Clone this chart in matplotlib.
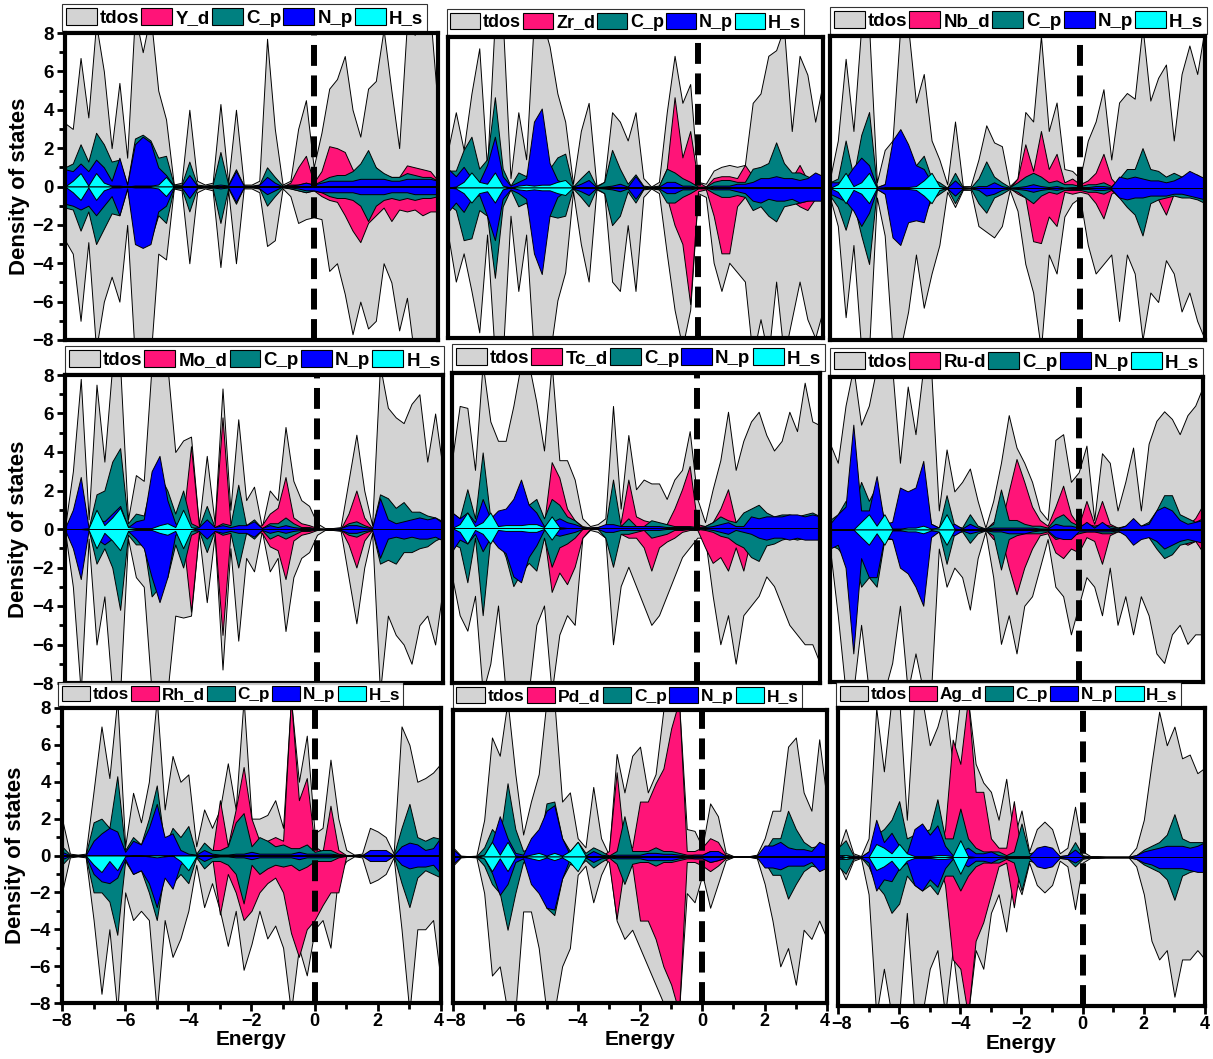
import numpy as np
import matplotlib
matplotlib.use("Agg")
import matplotlib.pyplot as plt
from matplotlib.patches import Patch
from matplotlib.ticker import MultipleLocator
from matplotlib.transforms import ScaledTranslation

plt.rcParams['font.family'] = ['Liberation Sans', 'DejaVu Sans']
plt.rcParams['font.weight'] = 'bold'

energy = np.linspace(-8, 4, 49)

# ---------------- Panel 1 : Y ----------------
tdos_up_Y = [3.3, 3.0, 6.7, 3.6, 8.5, 6.0, 2.0,
             5.4, 1.5, 9, 7, 9, 5, 3.5,
             0.1, 0.2, 4.0, 0.3, 0.1, 0.2, 4.3,
             0.2, 4.0, 0.1, 0.1, 0.3, 7.7, 3.0,
             0.1, 0.3, 3.0, 4.5, 1.0, 2.8, 5.1,
             5.6, 6.8, 4.0, 2.6, 5.1, 5.5, 8.2,
             5.0, 2.0, 8.5, 7.9, 9, 9, 4.0]
tdos_dn_Y = [-2.8, -3.5, -7.0, -2.9, -8.5, -6.0, -4.7,
             -6.0, -2.0, -9, -9, -9, -3.5, -3.8,
             -0.1, -0.2, -4.0, -0.3, -0.1, -0.2, -4.2,
             -0.2, -4.0, -0.1, -0.1, -0.3, -3.1, -2.8,
             -0.1, -0.5, -1.9, -1.7, -1.6, -1.7, -4.4,
             -4.0, -5.6, -7.7, -6.0, -7.4, -7.0, -4.0,
             -5.0, -7.5, -5.8, -9, -9, -9, -9]
d_up_Y = [0] * 28 + [0, 0.2, 1.0, 1.6, 0.2, 0.8, 2.1,
                     2.0, 1.8, 0.9, 0.6, 1.4, 1.0, 0.6,
                     0.5, 0.5, 1.1, 1.0, 0.9, 0.8, 0.3]
d_dn_Y = [0] * 28 + [0, -0.1, -0.2, -0.3, -0.2, -0.5, -0.7,
                     -0.8, -1.5, -2.3, -2.9, -1.9, -1.5, -1.1,
                     -1.8, -1.2, -1.3, -1.2, -1.5, -1.3, -1.3]
cp_up_Y = [1.0, 1.2, 2.2, 1.3, 2.8, 2.2, 1.3,
           1.4, 0.1, 2.5, 2.7, 2.4, 1.5, 1.6,
           0.1, 0.1, 1.3, 0.1, 0.05, 0.1, 1.8,
           0.1, 0.9, 0.05, 0.05, 0.1, 1.0, 0.5,
           0.05, 0.1, 0.1, 0.2, 0.1, 0.3, 0.5,
           0.6, 0.6, 0.8, 1.2, 1.9, 1.0, 0.7,
           0.5, 0.5, 0.7, 0.6, 0.5, 0.5, 0.3]
cp_dn_Y = [-1.1, -1.2, -2.3, -1.3, -3.0, -2.2, -1.4,
           -1.5, -0.1, -2.4, -2.6, -2.8, -1.5, -1.9,
           -0.1, -0.1, -1.3, -0.1, -0.05, -0.1, -1.9,
           -0.1, -0.9, -0.05, -0.05, -0.1, -1.0, -0.5,
           -0.05, -0.1, -0.2, -0.3, -0.2, -0.3, -0.5,
           -0.6, -0.6, -0.7, -1.0, -1.8, -1.0, -0.7,
           -0.6, -0.7, -0.6, -0.7, -0.6, -0.6, -0.5]
np_up_Y = [0.9, 0.8, 1.2, 0.8, 1.4, 1.0, 0.3,
           1.5, 0.1, 2.2, 2.6, 2.3, 1.0, 0.6,
           0.05, 0.05, 0.6, 0.05, 0, 0.05, 0.1,
           0.05, 0.8, 0.05, 0, 0.1, 0.5, 0.2,
           0, 0.05, 0.1, 0.2, 0.1, 0.2, 0.3,
           0.3, 0.3, 0.3, 0.4, 0.4, 0.4, 0.4,
           0.3, 0.3, 0.4, 0.4, 0.4, 0.4, 0.3]
np_dn_Y = [-0.9, -1.0, -1.2, -1.0, -1.5, -1.0, -0.5,
           -1.5, -0.1, -3.0, -3.2, -3.0, -1.3, -1.0,
           -0.05, -0.05, -0.6, -0.05, 0, -0.05, -0.1,
           -0.05, -0.8, -0.05, 0, -0.1, -0.4, -0.2,
           0, -0.05, -0.1, -0.2, -0.2, -0.3, -0.3,
           -0.3, -0.3, -0.3, -0.4, -0.4, -0.4, -0.4,
           -0.3, -0.3, -0.3, -0.4, -0.4, -0.4, -0.4]
hs_up_Y = [0, 0.3, 0.7, 0.05, 0.7, 0.2, 0.05,
           0.05, 0, 0.05, 0.05, 0.05, 0.1, 0.5] + [0] * 35
hs_dn_Y = [0, -0.3, -0.7, -0.05, -0.7, -0.2, -0.05,
           -0.05, 0, -0.05, -0.05, -0.05, -0.1, -0.5] + [0] * 35

# ---------------- Panel 2 : Zr ----------------
tdos_up_Zr = [2.0, 4.0, 2.0, 5.0, 7.4, 1.0, 9,
              9, 0.5, 4.0, 1.5, 9, 9, 7.5,
              5.0, 3.5, 0.2, 3.0, 4.5, 0.1, 0.3,
              4.0, 3.5, 2.5, 4.0, 0.5, 0.05, 0.3,
              4.0, 7.0, 4.5, 5.5, 0.3, 0.2, 0.9,
              1.1, 1.2, 1.1, 1.2, 4.5, 5.0, 7.0,
              7.3, 8.5, 3.0, 7.0, 6.0, 3.5, 5.6]
tdos_dn_Zr = [-2.5, -5.0, -3.5, -5.5, -7.7, -2.5, -9,
              -9, -1.5, -5.5, -2.5, -9, -9, -9,
              -6.0, -4.5, -0.2, -3.0, -5.0, -0.1, -0.3,
              -5.0, -5.5, -2.0, -5.5, -0.5, -0.05, -0.3,
              -3.5, -6.5, -8.5, -6.5, -0.3, -0.5, -4.0,
              -5.5, -4.0, -4.5, -5.0, -9, -7.0, -9,
              -5.0, -9, -7.0, -5.0, -7.0, -8.0, -6.5]
d_up_Zr = [0] * 27 + [0.1, 1.0, 4.8, 1.6, 3.0, 0.3, 0.05, 0.5, 0.6, 0.6, 0.5,
                      1.2, 0.6, 0.3, 0.3, 0.3, 0.4, 0.5, 1.2, 0.4, 0.3, 0.3]
d_dn_Zr = [0] * 27 + [-0.1, -0.5, -2.0, -3.0, -6.2, -0.2, -0.1, -1.5, -3.5, -3.5,
                      -1.0, -0.5, -0.4, -0.4, -0.5, -0.5, -0.6, -0.7, -1.0, -1.2,
                      -0.6, -0.5]
cp_up_Zr = [0.9, 0.9, 2.0, 2.7, 1.0, 1.5, 4.8,
            1.0, 0.1, 0.8, 0.6, 1.5, 1.0, 1.0,
            1.6, 1.8, 0.05, 0.5, 0.9, 0.05, 0.3,
            2.0, 1.0, 0.2, 0.7, 0.1, 0.05, 0.1,
            1.0, 0.8, 0.5, 0.3, 0.05, 0.05, 0.3,
            0.4, 0.4, 0.3, 0.3, 1.0, 1.1, 1.3,
            2.4, 1.3, 0.8, 0.8, 0.6, 0.4, 0.5]
cp_dn_Zr = [-0.9, -1.2, -2.8, -2.7, -1.2, -1.5, -4.8,
            -1.0, -0.1, -1.0, -0.8, -2.0, -1.5, -1.5,
            -1.6, -1.5, -0.05, -0.5, -1.0, -0.05, -0.3,
            -2.0, -1.5, -0.2, -0.8, -0.1, -0.05, -0.1,
            -0.8, -0.8, -0.5, -0.3, -0.05, -0.05, -0.3,
            -0.5, -0.5, -0.4, -0.5, -1.2, -1.0, -1.5,
            -1.8, -1.0, -0.9, -0.8, -0.7, -0.6, -0.7]
np_up_Zr = [1.0, 0.6, 1.1, 0.5, 0.3, 1.2, 2.7,
            0.6, 0.1, 0.3, 0.5, 3.5, 4.2, 1.3,
            0.4, 0.2, 0.05, 0.2, 0.4, 0.02, 0.05,
            0.1, 0.2, 0.05, 0.6, 0.05, 0.02, 0.05,
            0.3, 0.3, 0.1, 0.1, 0.02, 0.02, 0.1,
            0.1, 0.1, 0.2, 0.2, 0.3, 0.5, 0.5,
            0.6, 0.5, 0.5, 0.4, 0.5, 0.8, 0.6]
np_dn_Zr = [-1.3, -0.8, -1.3, -0.6, -0.4, -1.5, -2.8,
            -0.6, -0.1, -0.3, -0.6, -3.5, -4.6, -1.5,
            -0.5, -0.2, -0.05, -0.2, -0.4, -0.02, -0.05,
            -0.1, -0.2, -0.05, -0.6, -0.05, -0.02, -0.05,
            -0.3, -0.3, -0.1, -0.1, -0.02, -0.02, -0.1,
            -0.1, -0.1, -0.2, -0.3, -0.7, -0.8, -0.6,
            -0.7, -0.7, -0.6, -0.8, -0.7, -0.7, -0.7]
hs_up_Zr = [0, 0.05, 0.3, 0.8, 0.3, 0.2, 0.8,
            0.1, 0, 0.1, 0.15, 0.1, 0.15, 0.15,
            0.3, 0.4] + [0] * 33
hs_dn_Zr = [0, -0.05, -0.3, -0.8, -0.3, -0.2, -0.8,
            -0.1, 0, -0.1, -0.15, -0.1, -0.15, -0.15,
            -0.3, -0.4] + [0] * 33

# ---------------- Panel 3 : Nb ----------------
tdos_up_Nb = [0.5, 2.5, 6.8, 3.0, 8.5, 8.5, 0.3,
              2.0, 2.5, 8.5, 8.5, 4.5, 6.0, 2.5,
              1.5, 0.2, 3.5, 0.1, 0.1, 1.5, 3.3,
              2.4, 2.2, 0.1, 0.5, 4.0, 3.5, 8.0,
              3.0, 4.5, 1.0, 0.9, 0.5, 2.5, 3.5,
              5.2, 1.5, 4.5, 5.0, 4.7, 8.5, 4.6,
              5.8, 6.5, 2.5, 6.0, 7.5, 6.0, 8.5]
tdos_dn_Nb = [-0.5, -2.0, -6.8, -3.0, -8.5, -8.5, -0.5,
              -2.5, -8.5, -8.5, -6.5, -3.5, -6.3, -4.5,
              -3.0, -0.2, -1.0, -0.1, -0.1, -2.0, -2.3,
              -2.6, -2.0, -0.1, -1.2, -4.0, -5.5, -8.5,
              -3.5, -4.5, -1.5, -0.8, -0.5, -3.0, -4.5,
              -4.0, -3.5, -7.0, -3.5, -4.5, -8.0, -5.5,
              -6.0, -3.8, -4.5, -6.5, -5.5, -7.0, -8.0]
d_up_Nb = [0] * 24 + [0.5, 2.3, 0.9, 3.0, 1.0, 1.8, 0.3, 0.5, 0.2, 0.4, 0.8,
                      1.8, 0.5, 0.05, 0.05, 0.05, 0.05, 0.05, 0.05, 0.05,
                      0.1, 0.1, 0.1, 0.2, 0.4]
d_dn_Nb = [0] * 24 + [-0.3, -0.5, -2.8, -2.9, -1.5, -2.0, -0.2, -0.3, -0.2, -0.3,
                      -0.8, -1.6, -0.3, -0.05, -0.05, -0.05, -0.05, -0.2, -0.6,
                      -1.4, -0.3, -0.1, -0.1, -0.5, -0.6]
cp_up_Nb = [0.3, 0.5, 2.5, 0.6, 2.8, 4.0, 0.05,
            0.2, 0.5, 1.2, 1.5, 1.2, 1.7, 0.5,
            0.3, 0.02, 0.8, 0.05, 0.02, 0.5, 1.4,
            0.6, 0.3, 0.05, 0.3, 0.6, 0.8, 0.6,
            0.3, 0.4, 0.2, 0.2, 0.1, 0.2, 0.2,
            0.3, 0.1, 0.5, 1.0, 1.0, 2.1, 1.0,
            0.9, 0.6, 0.8, 0.6, 0.7, 0.7, 0.4]
cp_dn_Nb = [-0.4, -1.0, -2.2, -0.8, -2.5, -4.0, -0.05,
            -0.3, -0.8, -1.0, -1.2, -1.4, -1.4, -0.6,
            -0.3, -0.02, -0.8, -0.05, -0.02, -0.8, -1.3,
            -0.5, -0.3, -0.05, -0.2, -0.5, -0.8, -0.4,
            -0.2, -0.3, -0.1, -0.1, -0.1, -0.2, -0.2,
            -0.3, -0.1, -0.5, -1.0, -1.4, -2.5, -0.8,
            -0.6, -0.5, -0.4, -0.5, -0.5, -0.6, -0.8]
np_up_Nb = [0.3, 0.3, 0.5, 1.1, 1.6, 1.2, 0.05,
            0.2, 2.5, 3.1, 2.3, 1.2, 1.0, 0.3,
            0.1, 0.02, 0.4, 0.02, 0.02, 0.1, 0.1,
            0.3, 0.1, 0.02, 0.05, 0.1, 0.2, 0.1,
            0.05, 0.1, 0.02, 0.05, 0.05, 0.05, 0.1,
            0.1, 0.05, 0.6, 0.5, 0.6, 0.5, 0.4,
            0.4, 0.3, 0.4, 0.6, 0.9, 0.7, 0.5]
np_dn_Nb = [-0.3, -0.5, -0.7, -1.2, -2.0, -1.3, -0.05,
            -0.3, -2.6, -3.0, -1.8, -1.7, -1.8, -0.3,
            -0.1, -0.02, -0.4, -0.02, -0.02, -0.1, -0.4,
            -0.3, -0.1, -0.02, -0.05, -0.1, -0.2, -0.1,
            -0.05, -0.1, -0.02, -0.05, -0.05, -0.05, -0.1,
            -0.1, -0.05, -0.5, -0.6, -0.5, -0.5, -0.4,
            -0.4, -0.4, -0.3, -0.3, -0.4, -0.5, -0.6]
hs_up_Nb = [0, 0.2, 0.8, 0.1, 0.3, 0.8, 0,
            0.05, 0.05, 0.05, 0.05, 0.1, 0.4, 0.8,
            0.1] + [0] * 34
hs_dn_Nb = [0, -0.2, -0.8, -0.1, -0.3, -0.8, 0,
            -0.05, -0.05, -0.05, -0.05, -0.1, -0.4, -0.8,
            -0.1] + [0] * 34

# ---------------- Panel 4 : Mo ----------------
tdos_up_Mo = [0.1, 3.0, 7.8, 0.5, 7.5, 3.5, 8.5,
              8.5, 0.5, 2.8, 2.5, 8.5, 8.5, 8.5,
              4.0, 4.6, 4.8, 0.2, 3.8, 0.3, 7.3,
              1.0, 5.7, 1.5, 2.2, 0.1, 2.0, 1.5,
              5.3, 2.5, 1.5, 1.2, 0.3, 0.05, 0.05,
              0.1, 2.5, 4.9, 2.0, 0.2, 8.5, 6.3,
              5.8, 5.5, 6.5, 7.0, 3.5, 6.0, 3.0]
tdos_dn_Mo = [-0.1, -3.0, -8.5, -0.5, -6.0, -3.5, -8.5,
              -8.5, -0.5, -2.5, -3.0, -8.5, -8.5, -8.5,
              -4.5, -4.6, -4.5, -0.2, -3.8, -0.3, -7.3,
              -1.0, -5.8, -1.5, -2.2, -0.1, -2.2, -1.5,
              -5.3, -2.5, -1.5, -1.2, -0.3, -0.05, -0.05,
              -0.1, -2.5, -4.9, -2.0, -0.2, -8.5, -4.5,
              -5.5, -6.0, -7.0, -5.0, -4.5, -6.0, -3.0]
d_up_Mo = [0] * 15 + [0.5, 4.3, 0.2, 0.3, 0.2, 5.8, 0.3, 0.1, 0.1, 0.1, 0.2,
                      0.8, 1.1, 2.7, 0.6, 0.3, 0.2, 0.05, 0, 0, 0, 0.8, 2.0,
                      0.6, 0.05] + [0.05] * 9
d_dn_Mo = [0] * 15 + [-0.5, -4.3, -0.2, -0.3, -0.2, -5.5, -0.3, -0.1, -0.1, -0.1,
                      -0.2, -0.9, -1.1, -2.6, -0.6, -0.3, -0.2, -0.05, 0, 0, 0,
                      -0.8, -2.0, -0.6, -0.05] + [-0.05] * 9
cp_up_Mo = [0.05, 0.2, 0.2, 0.05, 1.8, 2.0, 3.5,
            4.2, 0.3, 0.8, 0.7, 2.5, 2.8, 2.0,
            0.8, 2.0, 0.3, 0.1, 1.2, 0.1, 0.3,
            0.2, 2.3, 0.2, 0.5, 0.05, 0.3, 0.3,
            0.6, 0.3, 0.1, 0.1, 0.02, 0.02, 0.02,
            0.05, 0.3, 0.4, 0.2, 0.05, 1.8, 1.6,
            1.1, 1.4, 0.9, 0.9, 0.7, 0.6, 0.4]
cp_dn_Mo = [-0.05, -0.2, -0.2, -0.05, -1.8, -1.0, -2.0,
            -4.2, -0.3, -0.8, -0.8, -3.5, -3.0, -2.5,
            -0.8, -2.0, -0.3, -0.1, -1.2, -0.1, -0.3,
            -0.2, -2.0, -0.2, -0.5, -0.05, -0.5, -0.3,
            -0.5, -0.3, -0.1, -0.1, -0.02, -0.02, -0.02,
            -0.05, -0.3, -0.4, -0.2, -0.05, -1.8, -1.6,
            -1.8, -1.2, -1.2, -1.0, -0.9, -0.6, -0.4]
np_up_Mo = [0.05, 1.0, 2.7, 0.05, 0.5, 0.4, 0.8,
            1.2, 0.1, 0.4, 0.5, 3.0, 3.8, 1.5,
            0.3, 0.1, 0.05, 0.1, 0.5, 0.1, 0.2,
            0.1, 0.2, 0.2, 0.4, 0.05, 0.2, 0.1,
            0.2, 0.1, 0.05, 0.05, 0.02, 0.02, 0.02,
            0.05, 0.2, 0.2, 0.1, 0.05, 1.6, 0.5,
            0.3, 0.4, 0.5, 0.6, 0.5, 0.6, 0.3]
np_dn_Mo = [-0.05, -1.0, -2.6, -0.05, -0.5, -0.8, -0.5,
            -1.0, -0.1, -0.5, -1.0, -2.5, -3.8, -2.5,
            -0.3, -0.1, -0.05, -0.1, -0.5, -0.1, -0.2,
            -0.1, -0.2, -0.2, -0.4, -0.05, -0.2, -0.1,
            -0.2, -0.1, -0.05, -0.05, -0.02, -0.02, -0.02,
            -0.05, -0.2, -0.2, -0.1, -0.05, -1.5, -0.5,
            -0.4, -0.5, -0.4, -0.5, -0.5, -0.4, -0.6]
hs_up_Mo = [0, 0, 0, 0.05, 1.0, 0.2, 0.6,
            1.1, 0.1, 0.05, 0.05, 0.05, 0.2, 0.3,
            0.1, 1.0, 0.1] + [0] * 32
hs_dn_Mo = [0, 0, 0, -0.05, -1.0, -0.2, -0.6,
            -1.1, -0.1, -0.05, -0.05, -0.05, -0.2, -0.3,
            -0.1, -1.0, -0.1] + [0] * 32

# ---------------- Panel 5 : Tc ----------------
tdos_up_Tc = [3.5, 6.3, 6.2, 3.0, 8.5, 5.5, 4.5,
              4.5, 6.3, 8.5, 8.5, 6.5, 4.0, 8.5,
              3.5, 3.5, 2.5, 0.5, 0.1, 0.2, 0.5,
              6.3, 1.0, 4.8, 2.0, 2.5, 2.3, 2.3,
              1.5, 2.5, 3.0, 5.0, 1.5, 0.3, 2.0,
              3.5, 6.0, 3.0, 4.5, 5.5, 6.0, 4.8,
              4.0, 4.5, 6.0, 5.0, 7.5, 5.5, 5.3]
tdos_dn_Tc = [-2.5, -4.5, -5.3, -3.5, -8.5, -7.0, -4.0,
              -8.5, -8.5, -8.5, -8.5, -5.0, -4.0, -8.5,
              -5.5, -4.5, -5.0, -0.5, -0.1, -0.2, -0.5,
              -6.0, -3.0, -2.0, -3.0, -4.0, -5.0, -4.5,
              -3.5, -2.5, -1.5, -1.0, -0.5, -0.5, -3.5,
              -6.0, -4.5, -7.0, -4.5, -4.0, -3.5, -2.5,
              -3.0, -4.0, -5.0, -5.5, -6.0, -6.0, -7.0]
d_up_Tc = [0] * 12 + [0.2, 3.4, 2.6, 1.0, 0.4, 0.1, 0.02, 0.05, 0.1, 0.2, 0.3,
                      2.5, 0.6, 0.4, 0.3, 0.2, 0.2, 1.0, 2.0, 3.2, 0.2, 0.1,
                      0.3, 1.0, 2.0, 0.3, 0.6, 0.2, 0.1] + [0.05] * 8
d_dn_Tc = [0] * 12 + [-0.3, -3.3, -2.3, -2.9, -2.0, -0.5, -0.05, -0.05, -0.1,
                      -0.2, -0.3, -0.5, -0.5, -1.0, -2.2, -1.0, -0.7, -0.5,
                      -0.2, -0.1, -0.1, -1.0, -1.8, -1.5, -2.2, -1.0, -2.2,
                      -0.5, -0.2] + [-0.05] * 8
cp_up_Tc = [0.8, 0.5, 2.0, 0.5, 3.9, 0.5, 0.3,
            0.5, 1.0, 2.0, 1.2, 1.5, 0.5, 1.5,
            1.2, 0.6, 0.4, 0.05, 0.02, 0.05, 0.1,
            2.5, 0.1, 0.5, 0.1, 0.1, 0.4, 0.3,
            0.2, 0.1, 0.1, 0.1, 0.05, 0.1, 0.3,
            0.6, 0.4, 0.3, 0.8, 1.0, 1.2, 0.8,
            0.6, 0.7, 0.7, 0.6, 0.7, 0.8, 0.6]
cp_dn_Tc = [-0.8, -1.0, -2.8, -0.5, -4.5, -0.5, -0.5,
            -1.5, -3.0, -2.3, -1.8, -2.2, -0.5, -2.0,
            -1.0, -0.8, -0.5, -0.05, -0.02, -0.05, -0.5,
            -2.0, -0.3, -0.3, -0.2, -0.1, -0.5, -0.4,
            -0.3, -0.1, -0.1, -0.05, -0.05, -0.1, -0.2,
            -0.4, -0.5, -0.8, -1.0, -1.5, -1.7, -0.9,
            -0.8, -0.6, -0.5, -0.6, -0.5, -0.4, -0.6]
np_up_Tc = [0.8, 0.5, 0.8, 0.3, 1.5, 0.5, 0.9,
            1.0, 1.5, 2.5, 1.2, 0.8, 0.1, 0.3,
            0.5, 0.3, 0.2, 0.05, 0.02, 0.05, 0.2,
            0.2, 0.1, 0.1, 0.1, 0.1, 0.1, 0.1,
            0.05, 0.05, 0.05, 0.05, 0.02, 0.05, 0.1,
            0.2, 0.3, 0.1, 0.1, 0.6, 0.5, 0.6,
            0.6, 0.6, 0.7, 0.7, 0.6, 0.7, 0.6]
np_dn_Tc = [-1.2, -0.6, -0.8, -0.3, -1.2, -0.5, -1.0,
            -1.3, -2.5, -2.8, -1.5, -0.9, -0.1, -0.3,
            -0.4, -0.3, -0.2, -0.05, -0.02, -0.05, -0.2,
            -0.2, -0.1, -0.1, -0.1, -0.1, -0.1, -0.1,
            -0.05, -0.05, -0.05, -0.05, -0.02, -0.05, -0.1,
            -0.2, -0.3, -0.1, -0.2, -0.3, -0.5, -0.6,
            -0.5, -0.5, -0.6, -0.5, -0.6, -0.6, -0.6]
hs_up_Tc = [0, 0.2, 0.8, 0.1, 0.3, 0.8, 0.1,
            0.15, 0.15, 0.15, 0.2, 0.2, 0.05, 0.6,
            0.05] + [0] * 34
hs_dn_Tc = [0, -0.2, -0.8, -0.1, -0.3, -0.8, -0.1,
            -0.15, -0.15, -0.15, -0.2, -0.2, -0.05, -0.6,
            -0.05] + [0] * 34

# ---------------- Panel 6 : Ru ----------------
tdos_up_Ru = [4.5, 3.5, 6.5, 8.5, 5.5, 6.5, 8.5,
              8.5, 8.5, 3.5, 7.5, 5.0, 8.5, 8.5,
              1.0, 4.2, 2.0, 2.5, 3.2, 1.5, 0.1,
              1.5, 3.5, 6.0, 4.3, 3.5, 2.5, 1.0,
              0.5, 4.7, 5.0, 2.5, 3.0, 4.4, 0.5,
              4.0, 3.5, 1.0, 2.5, 4.3, 1.0, 4.5,
              5.7, 6.2, 5.8, 5.0, 6.0, 6.5, 7.5]
tdos_dn_Ru = [-1.0, -4.5, -8.5, -8.5, -5.0, -8.5, -8.5,
              -8.5, -7.0, -4.0, -8.5, -6.5, -8.5, -8.5,
              -1.0, -3.0, -2.0, -2.5, -4.2, -1.5, -0.1,
              -2.5, -6.0, -4.5, -6.5, -4.0, -3.5, -2.0,
              -0.5, -3.0, -3.5, -5.5, -4.0, -2.5, -3.0,
              -4.5, -2.0, -5.0, -3.5, -5.5, -3.5, -4.5,
              -6.5, -7.0, -5.5, -5.0, -6.0, -5.5, -5.5]
d_up_Ru = [0] * 21 + [0.4, 0.2, 2.0, 3.7, 2.5, 1.2, 0.5, 0.2, 1.2, 2.3, 0.8, 0.2,
                      1.5, 0.3, 1.5, 0.3] + [0.1] * 9 + [0.2, 0.6, 1.3]
d_dn_Ru = [0] * 21 + [-0.5, -0.3, -2.0, -3.4, -2.0, -1.0, -0.3, -0.2, -1.2, -1.5,
                      -1.0, -1.2, -0.4, -0.6, -1.8, -0.3, -0.1, -0.1, -0.1, -0.1,
                      -0.1, -0.1, -0.1, -0.3, -0.6, -0.8, -0.6, -1.2]
cp_up_Ru = [0.5, 0.8, 1.5, 1.0, 2.5, 1.5, 2.3,
            0.4, 0.3, 1.0, 1.5, 2.0, 2.5, 0.3,
            0.1, 1.8, 0.2, 0.1, 0.8, 0.2, 0.05,
            0.3, 2.1, 0.5, 0.5, 0.3, 0.2, 0.2,
            0.1, 0.6, 0.8, 0.4, 0.2, 0.3, 0.2,
            0.3, 0.2, 0.1, 0.2, 0.4, 0.2, 0.4,
            1.0, 1.8, 1.8, 0.8, 0.6, 0.4, 0.6]
cp_dn_Ru = [-0.8, -1.0, -1.5, -1.2, -3.0, -2.5, -3.0,
            -0.5, -0.5, -1.5, -2.0, -1.5, -2.3, -0.3,
            -0.1, -1.8, -0.2, -0.1, -0.7, -0.2, -0.05,
            -0.3, -2.1, -0.5, -0.3, -0.2, -0.2, -0.2,
            -0.1, -0.5, -0.4, -0.3, -0.2, -0.1, -0.1,
            -0.2, -0.2, -0.1, -0.2, -0.4, -0.2, -0.4,
            -1.0, -1.5, -1.3, -0.8, -0.7, -0.6, -0.4]
np_up_Ru = [0.3, 0.8, 1.2, 5.5, 1.0, 1.0, 2.8,
            0.3, 0.4, 2.2, 2.0, 2.2, 3.6, 0.3,
            0.1, 0.1, 0.3, 0.05, 0.3, 0.1, 0.05,
            0.1, 0.1, 0.1, 0.1, 0.1, 0.1, 0.05,
            0.05, 0.3, 0.2, 0.2, 0.1, 0.4, 0.1,
            0.4, 0.1, 0.05, 0.2, 0.6, 0.2, 0.3,
            1.0, 1.2, 1.0, 0.5, 0.3, 0.4, 0.5]
np_dn_Ru = [-1.0, -0.8, -2.0, -6.5, -1.5, -2.5, -2.5,
            -0.4, -0.5, -2.0, -2.3, -3.0, -4.0, -0.4,
            -0.1, -0.3, -0.3, -0.05, -0.2, -0.1, -0.05,
            -0.1, -0.1, -0.2, -0.2, -0.2, -0.1, -0.05,
            -0.05, -0.4, -0.5, -0.5, -0.1, -0.1, -0.1,
            -0.1, -0.1, -0.05, -0.3, -0.8, -0.5, -0.4,
            -0.6, -1.0, -0.8, -0.6, -0.5, -0.6, -0.7]
hs_up_Ru = [0, 0, 0, 0, 0.4, 0.8, 0.2,
            0.8, 0.05, 0.05, 0.1, 0.1, 0.2, 0.05,
            0.1, 0.8, 0.05] + [0] * 32
hs_dn_Ru = [0, 0, 0, 0, -0.4, -0.8, -0.2,
            -0.8, -0.05, -0.05, -0.1, -0.1, -0.2, -0.05,
            -0.1, -0.8, -0.05] + [0] * 32

# ---------------- Panel 7 : Rh ----------------
tdos_up_Rh = [2.0, 0.1, 0.05, 0.1, 3.5, 7.0, 4.2,
              8.5, 0.5, 3.4, 1.8, 4.0, 8.5, 2.5,
              5.4, 4.0, 4.4, 0.5, 2.5, 1.5, 2.5,
              5.0, 2.5, 8.5, 2.0, 2.0, 2.2, 3.0,
              1.5, 8.5, 4.0, 6.5, 1.2, 1.5, 5.2,
              2.0, 0.3, 0.05, 0.1, 1.5, 1.3, 1.0,
              0.1, 7.0, 6.0, 4.0, 4.2, 4.5, 5.0]
tdos_dn_Rh = [-2.0, -0.1, -0.05, -0.1, -3.5, -7.5, -4.0,
              -8.5, -2.0, -3.5, -3.0, -3.5, -8.5, -3.5,
              -5.5, -4.5, -3.0, -0.5, -2.8, -1.5, -3.0,
              -4.9, -3.0, -6.2, -4.8, -3.0, -4.5, -3.8,
              -5.0, -8.5, -5.0, -6.5, -4.0, -3.5, -5.0,
              -1.0, -0.3, -0.05, -0.1, -1.5, -1.3, -1.0,
              -0.1, -4.0, -8.5, -4.0, -4.0, -3.5, -6.9]
d_up_Rh = [0] * 19 + [0.05, 3.0, 0.5, 2.5, 4.8, 2.0, 0.8, 0.8, 1.0, 0.8, 8.5,
                      3.0, 4.2, 0.5, 0.2, 2.7, 0.3] + [0.02] * 13
d_dn_Rh = [0] * 19 + [-0.05, -3.2, -1.0, -2.0, -3.5, -3.0, -2.0, -1.5, -1.2, -2.0,
                      -4.2, -5.5, -4.0, -3.5, -2.7, -2.0, -2.0] + [-0.02] * 13
cp_up_Rh = [0.5, 0.05, 0.02, 0.05, 1.8, 2.0, 1.5,
            4.3, 0.3, 1.0, 0.6, 2.0, 3.8, 0.5,
            1.5, 1.0, 1.6, 0.1, 0.7, 0.3, 0.3,
            0.5, 1.8, 2.3, 0.5, 1.0, 0.8, 0.5,
            0.6, 0.4, 0.4, 0.6, 0.2, 0.3, 0.3,
            0.1, 0.02, 0.02, 0.02, 0.2, 0.2, 0.2,
            0.02, 1.5, 2.8, 1.0, 0.8, 1.0, 0.9]
cp_dn_Rh = [-0.5, -0.05, -0.02, -0.05, -2.0, -2.0, -2.5,
            -4.3, -0.3, -1.0, -0.8, -2.0, -3.5, -0.8,
            -1.5, -1.0, -1.5, -0.1, -0.7, -0.3, -0.3,
            -0.5, -1.0, -2.6, -0.5, -1.0, -0.7, -0.5,
            -0.6, -0.5, -0.8, -0.6, -0.3, -0.3, -0.3,
            -0.1, -0.02, -0.02, -0.02, -0.2, -0.2, -0.2,
            -0.02, -1.5, -2.8, -1.2, -0.8, -1.0, -1.2]
np_up_Rh = [0.2, 0.02, 0.02, 0.02, 0.8, 1.2, 1.5,
            1.3, 0.2, 0.8, 0.6, 1.5, 2.8, 1.0,
            1.2, 0.3, 0.1, 0.05, 0.3, 0.1, 0.05,
            0.05, 0.1, 0.1, 0.2, 0.1, 0.1, 0.1,
            0.1, 0.1, 0.2, 0.1, 0.1, 0.1, 0.1,
            0.05, 0.02, 0.02, 0.02, 0.3, 0.3, 0.3,
            0.02, 0.5, 0.7, 0.6, 0.3, 0.4, 1.0]
np_dn_Rh = [-0.2, -0.02, -0.02, -0.02, -1.0, -1.4, -1.5,
            -1.2, -0.2, -1.0, -0.8, -1.5, -2.8, -1.2,
            -1.8, -0.5, -0.1, -0.05, -0.3, -0.1, -0.05,
            -0.05, -0.1, -0.1, -0.2, -0.1, -0.1, -0.1,
            -0.1, -0.1, -0.2, -0.1, -0.1, -0.1, -0.1,
            -0.05, -0.02, -0.02, -0.02, -0.3, -0.3, -0.3,
            -0.02, -0.5, -0.7, -0.6, -0.6, -0.5, -1.0]
hs_up_Rh = [0] * 49
hs_dn_Rh = [0, 0, 0, 0, -0.5, -0.9, -0.3,
            -0.8, -0.05, 0, 0, -0.05, -0.1, -0.05,
            0, -0.3, -0.8, -0.05] + [0] * 31

# ---------------- Panel 8 : Pd ----------------
tdos_up_Pd = [0.5, 0.05, 0.02, 0.05, 2.0, 6.5, 5.5,
              8.5, 4.5, 1.2, 3.0, 4.5, 8.5, 8.5,
              3.0, 3.5, 1.0, 0.5, 3.8, 1.0, 0.1,
              5.6, 3.5, 5.5, 6.0, 3.5, 4.5, 8.0,
              8.5, 8.5, 1.5, 1.4, 0.5, 2.9, 2.2,
              0.2, 0.02, 0.02, 0.02, 0.1, 1.0, 2.5,
              2.5, 6.0, 6.5, 3.5, 2.5, 6.4, 3.0]
tdos_dn_Pd = [-0.5, -0.05, -0.02, -0.05, -2.0, -6.5, -6.0,
              -8.5, -8.5, -3.0, -3.0, -5.0, -8.5, -8.5,
              -6.0, -5.0, -1.0, -0.5, -2.5, -1.0, -0.1,
              -3.5, -4.5, -4.0, -5.0, -6.0, -7.0, -8.0,
              -8.5, -8.5, -2.0, -2.5, -1.0, -2.8, -1.5,
              -0.2, -0.02, -0.02, -0.02, -0.1, -1.5, -3.5,
              -6.0, -5.0, -7.0, -4.0, -4.5, -3.5, -4.5]
d_up_Pd = [0] * 20 + [0.3, 4.6, 0.5, 0.5, 3.0, 3.0, 4.0, 4.8, 7.0, 8.5, 0.3, 0.3,
                      0.5, 1.0, 0.8, 0.1] + [0.02] * 13
d_dn_Pd = [0] * 20 + [-0.3, -3.4, -0.5, -0.5, -3.5, -3.5, -4.5, -6.0, -7.0, -8.5,
                      -0.3, -0.3, -0.5, -0.8, -0.5, -0.1] + [-0.02] * 13
cp_up_Pd = [0.3, 0.02, 0.02, 0.02, 0.5, 1.5, 1.0,
            4.0, 1.5, 0.3, 0.5, 0.5, 2.9, 3.0,
            1.0, 0.3, 0.8, 0.2, 0.5, 0.3, 0.05,
            0.3, 2.2, 0.3, 0.3, 0.3, 0.5, 0.3,
            0.3, 0.2, 0.1, 0.1, 0.1, 0.3, 0.2,
            0.05, 0.02, 0.02, 0.02, 0.05, 0.3, 1.0,
            1.0, 2.5, 1.5, 0.8, 0.5, 0.6, 0.5]
cp_dn_Pd = [-0.3, -0.02, -0.02, -0.02, -0.5, -1.5, -2.0,
            -4.0, -2.0, -0.3, -0.5, -0.6, -2.8, -3.2,
            -1.2, -0.4, -0.6, -0.2, -0.6, -0.3, -0.05,
            -0.4, -1.5, -0.4, -0.3, -0.3, -0.5, -0.3,
            -0.3, -0.2, -0.1, -0.1, -0.1, -0.3, -0.2,
            -0.05, -0.02, -0.02, -0.02, -0.05, -0.3, -1.0,
            -1.0, -2.3, -1.5, -0.8, -0.5, -0.6, -0.5]
np_up_Pd = [0.4, 0.02, 0.02, 0.02, 0.1, 0.8, 2.2,
            1.0, 0.2, 0.1, 1.0, 1.5, 2.5, 2.8,
            1.0, 0.1, 0.2, 0.05, 0.3, 0.1, 0.05,
            0.1, 0.1, 0.1, 0.1, 0.2, 0.2, 0.15,
            0.15, 0.1, 0.05, 0.1, 0.1, 0.3, 0.3,
            0.05, 0.02, 0.02, 0.02, 0.05, 0.6, 0.6,
            0.8, 0.5, 0.4, 0.4, 0.3, 0.8, 0.6]
np_dn_Pd = [-0.4, -0.02, -0.02, -0.02, -0.1, -0.9, -2.1,
            -1.5, -0.3, -0.1, -1.5, -2.0, -2.8, -2.9,
            -1.2, -0.1, -0.2, -0.05, -0.3, -0.1, -0.05,
            -0.1, -0.1, -0.1, -0.1, -0.2, -0.2, -0.2,
            -0.2, -0.1, -0.05, -0.1, -0.1, -0.3, -0.2,
            -0.05, -0.02, -0.02, -0.02, -0.05, -0.6, -0.6,
            -0.7, -0.5, -0.5, -0.5, -0.3, -0.8, -0.6]
hs_up_Pd = [0, 0, 0, 0, 0.1, 0.8, 0.1,
            0.8, 0.05, 0.02, 0.1, 0.2, 0.05, 0.2,
            0.05, 0.3, 0.8, 0.05] + [0] * 31
hs_dn_Pd = [0, 0, 0, 0, -0.1, -0.8, -0.1,
            -0.8, -0.05, -0.02, -0.1, -0.2, -0.05, -0.2,
            -0.05, -0.3, -0.8, -0.05] + [0] * 31

# ---------------- Panel 9 : Ag ----------------
tdos_up_Ag = [0.3, 1.5, 0.2, 0.05, 1.0, 8.0, 4.6,
              8.5, 8.5, 2.0, 8.5, 8.5, 6.0, 7.0,
              8.5, 5.0, 8.5, 8.5, 5.0, 4.0, 3.5,
              2.0, 4.2, 1.0, 2.5, 0.3, 1.5, 1.9,
              1.5, 0.2, 0.5, 2.7, 0.3, 0.05, 0.05,
              0.02, 0.02, 0.02, 0.02, 0.5, 2.0, 5.0,
              7.8, 6.0, 7.0, 5.3, 5.5, 4.5, 4.8]
tdos_dn_Ag = [-0.3, -1.2, -0.2, -0.05, -2.0, -8.5, -6.0,
              -8.5, -8.5, -3.0, -8.5, -8.5, -6.0, -5.0,
              -8.5, -5.0, -8.5, -8.5, -5.0, -6.0, -3.0,
              -2.0, -4.0, -1.0, -2.0, -0.3, -1.5, -1.9,
              -1.5, -0.2, -0.5, -2.8, -0.3, -0.05, -0.05,
              -0.02, -0.02, -0.02, -0.02, -0.5, -2.0, -4.5,
              -5.5, -5.0, -7.5, -5.5, -5.5, -5.0, -5.5]
d_up_Ag = [0] * 10 + [0.8, 0, 0, 0, 1.5, 6.3, 5.0, 8.5, 3.5, 3.5, 1.0, 0.5, 0.5,
                      3.0, 0.1, 0.05] + [0] * 23
d_dn_Ag = [0] * 10 + [-1.2, 0, 0, 0, -1.5, -5.5, -6.0, -8.5, -4.5, -3.5, -2.0,
                      -0.5, -0.3, -2.7, -0.1, -0.05] + [0] * 23
cp_up_Ag = [0.5, 0.9, 0.1, 0.02, 0.3, 1.2, 1.5,
            2.0, 3.0, 1.0, 1.2, 1.3, 1.5, 3.1,
            1.0, 1.0, 2.6, 1.0, 0.5, 0.3, 0.3,
            0.3, 0.1, 0.3, 1.8, 0.2, 0.3, 0.3,
            0.2, 0.05, 0.1, 0.8, 0.1, 0.02, 0.02,
            0.02, 0.02, 0.02, 0.02, 0.1, 0.4, 0.6,
            0.8, 1.2, 2.3, 1.0, 0.8, 0.8, 0.8]
cp_dn_Ag = [-0.5, -0.9, -0.1, -0.02, -0.5, -1.5, -2.0,
            -3.0, -2.5, -1.0, -1.5, -1.8, -1.5, -2.0,
            -1.0, -1.0, -1.8, -1.0, -0.5, -0.3, -0.3,
            -0.3, -0.1, -0.3, -1.8, -0.2, -0.3, -0.3,
            -0.2, -0.05, -0.1, -0.5, -0.1, -0.02, -0.02,
            -0.02, -0.02, -0.02, -0.02, -0.1, -0.4, -0.6,
            -0.8, -1.2, -2.3, -1.0, -0.8, -0.7, -0.7]
np_up_Ag = [0.1, 0.1, 0.05, 0.02, 0.3, 2.0, 0.8,
            1.3, 0.6, 0.2, 1.5, 1.8, 1.2, 1.7,
            0.6, 0.1, 0.3, 0.5, 0.2, 0.2, 0.3,
            0.1, 0.05, 0.05, 0.05, 0.05, 0.5, 0.6,
            0.5, 0.05, 0.1, 0.4, 0.05, 0.02, 0.02,
            0.02, 0.02, 0.02, 0.02, 0.1, 0.3, 0.4,
            0.5, 0.6, 0.6, 0.6, 0.5, 0.6, 0.8]
np_dn_Ag = [-0.1, -0.1, -0.05, -0.02, -0.3, -1.8, -1.2,
            -1.3, -0.6, -0.3, -1.5, -1.8, -1.2, -1.6,
            -0.6, -0.1, -0.3, -0.5, -0.2, -0.2, -0.3,
            -0.1, -0.05, -0.05, -0.05, -0.05, -0.5, -0.6,
            -0.5, -0.05, -0.1, -0.3, -0.05, -0.02, -0.02,
            -0.02, -0.02, -0.02, -0.02, -0.1, -0.3, -0.4,
            -0.6, -0.6, -0.6, -0.6, -0.7, -0.8, -0.8]
hs_up_Ag = [0, 0.1, 0, 0, 0, 0.7, 0.5,
            0.2, 0.7, 0.2, 0.05, 0.05, 0.05, 0.1,
            0.1, 0.05, 0.9, 0.05] + [0] * 31
hs_dn_Ag = [0, -0.1, 0, 0, 0, -0.7, -0.5,
            -0.2, -0.7, -0.2, -0.05, -0.05, -0.05, -0.1,
            -0.1, -0.05, -0.9, -0.05] + [0] * 31

metal_labels = ['Y_d', 'Zr_d', 'Nb_d', 'Mo_d', 'Tc_d', 'Ru-d', 'Rh_d', 'Pd_d', 'Ag_d']
energy_ticks = [-8, -6, -4, -2, 0, 2, 4]

panel_data = [
    (tdos_up_Y, tdos_dn_Y, d_up_Y, d_dn_Y, cp_up_Y, cp_dn_Y, np_up_Y, np_dn_Y, hs_up_Y, hs_dn_Y),
    (tdos_up_Zr, tdos_dn_Zr, d_up_Zr, d_dn_Zr, cp_up_Zr, cp_dn_Zr, np_up_Zr, np_dn_Zr, hs_up_Zr, hs_dn_Zr),
    (tdos_up_Nb, tdos_dn_Nb, d_up_Nb, d_dn_Nb, cp_up_Nb, cp_dn_Nb, np_up_Nb, np_dn_Nb, hs_up_Nb, hs_dn_Nb),
    (tdos_up_Mo, tdos_dn_Mo, d_up_Mo, d_dn_Mo, cp_up_Mo, cp_dn_Mo, np_up_Mo, np_dn_Mo, hs_up_Mo, hs_dn_Mo),
    (tdos_up_Tc, tdos_dn_Tc, d_up_Tc, d_dn_Tc, cp_up_Tc, cp_dn_Tc, np_up_Tc, np_dn_Tc, hs_up_Tc, hs_dn_Tc),
    (tdos_up_Ru, tdos_dn_Ru, d_up_Ru, d_dn_Ru, cp_up_Ru, cp_dn_Ru, np_up_Ru, np_dn_Ru, hs_up_Ru, hs_dn_Ru),
    (tdos_up_Rh, tdos_dn_Rh, d_up_Rh, d_dn_Rh, cp_up_Rh, cp_dn_Rh, np_up_Rh, np_dn_Rh, hs_up_Rh, hs_dn_Rh),
    (tdos_up_Pd, tdos_dn_Pd, d_up_Pd, d_dn_Pd, cp_up_Pd, cp_dn_Pd, np_up_Pd, np_dn_Pd, hs_up_Pd, hs_dn_Pd),
    (tdos_up_Ag, tdos_dn_Ag, d_up_Ag, d_dn_Ag, cp_up_Ag, cp_dn_Ag, np_up_Ag, np_dn_Ag, hs_up_Ag, hs_dn_Ag),
]

colors = ['#D3D3D3', '#FF1478', '#008080', '#0000FF', '#00FFFF']

# axes boxes in pixels: left, right, top, bottom
boxes = [(65, 438, 33, 340), (448, 823, 37, 338), (830, 1205, 36, 340),
         (65, 443, 375, 683), (452, 820, 373, 683), (830, 1203, 377, 682),
         (62, 441, 708, 1003), (453, 827, 710, 1003), (838, 1205, 708, 1006)]
leg_x0 = [-0.008, -0.003, 0.0, 0.0, 0.0, 0.0, -0.01, 0.0, -0.005]
leg_fs = [13.5, 13.0, 13.5, 13.5, 13.5, 13.5, 12.3, 12.5, 12.3]

W, H = 1213, 1059
fig = plt.figure(figsize=(W / 100, H / 100), dpi=100)

for k, (l, r, t, b) in enumerate(boxes):
    ax = fig.add_axes([l / W, 1 - b / H, (r - l) / W, (b - t) / H])
    data = panel_data[k]
    for s in range(5):
        up = np.array(data[2 * s], dtype=float)
        dn = np.array(data[2 * s + 1], dtype=float)
        assert len(up) == 49 and len(dn) == 49, (k, s, len(up), len(dn))
        ax.fill_between(energy, 0, up, facecolor=colors[s], edgecolor='black',
                        linewidth=0.7, zorder=1 + s * 0.1)
        ax.fill_between(energy, 0, dn, facecolor=colors[s], edgecolor='black',
                        linewidth=0.7, zorder=1 + s * 0.1)
    ax.axvline(0, color='black', lw=4.3, ls=(0, (3.5, 1.6)), zorder=5)
    ax.set_xlim(-8, 4)
    ax.set_ylim(-8, 8)
    for sp in ax.spines.values():
        sp.set_linewidth(3)
        sp.set_zorder(6)

    col, row = k % 3, k // 3
    if col == 0:
        ax.yaxis.set_major_locator(MultipleLocator(2))
        ax.yaxis.set_minor_locator(MultipleLocator(1))
        ax.tick_params(axis='y', which='major', direction='out', length=6, width=2,
                       labelsize=13.5, pad=2)
        ax.tick_params(axis='y', which='minor', direction='out', length=4, width=2)
        ax.set_ylabel('Density of states', fontsize=16, fontweight='bold')
        ax.yaxis.set_label_coords(-0.095, 0.5)
    else:
        ax.set_yticks([])
        ax.yaxis.set_minor_locator(plt.NullLocator())
    if row == 2:
        ax.set_xticks(energy_ticks)
        ax.xaxis.set_minor_locator(MultipleLocator(1))
        ax.tick_params(axis='x', which='major', direction='out', length=6, width=2,
                       labelsize=13, pad=1)
        ax.tick_params(axis='x', which='minor', direction='out', length=4, width=2)
        ax.set_xlabel('Energy', fontsize=15, fontweight='bold')
        ax.xaxis.set_label_coords(0.5, -0.093)
        ticks = ax.xaxis.get_major_ticks()
        if col > 0:
            lab = ticks[0].label1
            lab.set_transform(lab.get_transform() +
                              ScaledTranslation(0.03, 0, fig.dpi_scale_trans))
        if col < 2:
            lab = ticks[-1].label1
            lab.set_transform(lab.get_transform() +
                              ScaledTranslation(-0.02, 0, fig.dpi_scale_trans))
    else:
        ax.set_xticks([])
        ax.xaxis.set_minor_locator(plt.NullLocator())

    labels = ['tdos', metal_labels[k], 'C_p', 'N_p', 'H_s']
    handles = [Patch(facecolor=c, edgecolor='black', linewidth=0.8) for c in colors]
    leg = ax.legend(handles, labels, loc='lower left',
                    bbox_to_anchor=(leg_x0[k], 1.008),
                    ncol=5, frameon=True, fancybox=False, borderaxespad=0,
                    handlelength=1.65, handleheight=1.0, handletextpad=0.16,
                    columnspacing=0.12, borderpad=0.2,
                    prop={'weight': 'bold', 'size': leg_fs[k]})
    leg.get_frame().set_edgecolor('black')
    leg.get_frame().set_linewidth(0.8)

fig.savefig('out.png', dpi=100)
